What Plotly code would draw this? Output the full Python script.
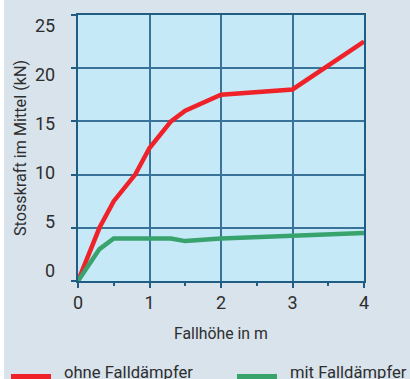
import plotly.graph_objects as go

# Fallhöhe (m) and mean impact force (kN)
hoehe_ohne = [0, 0.3, 0.5, 0.8, 1.0, 1.3, 1.5, 2.0, 3.0, 4.0]
kraft_ohne = [0, 5.0, 7.5, 10.0, 12.5, 15.0, 16.0, 17.5, 18.0, 22.5]

hoehe_mit = [0, 0.3, 0.5, 1.3, 1.5, 2.0, 3.0, 4.0]
kraft_mit = [0, 3.0, 4.0, 4.0, 3.75, 4.0, 4.25, 4.5]

x_ticks = [0, 1, 2, 3, 4]
y_ticks = [0, 5, 10, 15, 20, 25]

series_names = ["ohne Falldämpfer", "mit Falldämpfer"]
series_colors = ["#ee2228", "#38a36c"]

FONT = "Roboto, sans-serif"
TEXT = "#2e2e2e"
GRID = "#3a739a"
AXIS = "#1f5d85"
BG = "#d8e3ec"

# plot area in pixels
L, R, T, B = 78, 46, 15, 98
W, H = 410, 379
PW, PH = W - L - R, H - T - B


def px(x):
    return (x - L) / PW


def py(y):
    return (H - B - y) / PH


fig = go.Figure()
fig.add_trace(go.Scatter(x=hoehe_ohne, y=kraft_ohne, mode="lines",
                         name=series_names[0], showlegend=False,
                         line=dict(color=series_colors[0], width=4.5)))
fig.add_trace(go.Scatter(x=hoehe_mit, y=kraft_mit, mode="lines",
                         name=series_names[1], showlegend=False,
                         line=dict(color=series_colors[1], width=4.5)))

# y tick labels, set slightly inside the grid span
annotations = []
for v in y_ticks:
    annotations.append(dict(x=px(57), xref="paper", xanchor="right",
                            y=1.03 + 0.92 * v, yref="y", yanchor="middle",
                            text=str(v), showarrow=False,
                            font=dict(family=FONT, size=18, color=TEXT)))
annotations.append(dict(x=px(20), xref="paper", y=0.5, yref="paper",
                        text="Stosskraft im Mittel (kN)", textangle=-90,
                        showarrow=False, xanchor="center", yanchor="middle",
                        font=dict(family=FONT, size=16.2, color=TEXT)))
annotations.append(dict(x=0.5, xref="paper", y=py(333), yref="paper",
                        text="Fallhöhe in m", showarrow=False,
                        xanchor="center", yanchor="middle",
                        font=dict(family=FONT, size=15.8, color=TEXT)))

shapes = [dict(type="rect", xref="paper", yref="paper",
               x0=px(-10), x1=px(4), y0=py(400), y1=py(-10),
               fillcolor="white", line=dict(width=0), layer="above")]

# legend row along the bottom edge
legend_x = [11, 237]
for name, color, x0 in zip(series_names, series_colors, legend_x):
    shapes.append(dict(type="line", xref="paper", yref="paper",
                       x0=px(x0), x1=px(x0 + 40), y0=py(376.5), y1=py(376.5),
                       line=dict(color=color, width=5)))
    annotations.append(dict(x=px(x0 + 51), xref="paper", xanchor="left",
                            y=py(372), yref="paper", yanchor="middle",
                            text=name, showarrow=False,
                            font=dict(family=FONT, size=16.6, color=TEXT)))

fig.update_layout(
    width=W, height=H,
    margin=dict(l=L, r=R, t=T, b=B, autoexpand=False),
    paper_bgcolor=BG,
    plot_bgcolor="#c6e9f8",
    annotations=annotations,
    shapes=shapes,
    showlegend=False,
    xaxis=dict(range=[0, 4], tickvals=x_ticks, showgrid=True,
               gridcolor=GRID, gridwidth=1.5, zeroline=False,
               showline=True, linecolor=AXIS, linewidth=1.5, mirror=True,
               ticks="outside", ticklen=5, tickcolor=AXIS, tickwidth=1.5,
               minor=dict(dtick=0.5, ticks="outside", ticklen=3,
                          tickcolor=AXIS, showgrid=False),
               tickfont=dict(family=FONT, size=18, color=TEXT)),
    yaxis=dict(range=[0, 25], tickvals=y_ticks, showgrid=True,
               gridcolor=GRID, gridwidth=1.5, zeroline=False,
               showline=True, linecolor=AXIS, linewidth=1.5, mirror=True,
               ticks="outside", ticklen=5, tickcolor=AXIS, tickwidth=1.5,
               showticklabels=False),
)

fig.write_html("out.html")
